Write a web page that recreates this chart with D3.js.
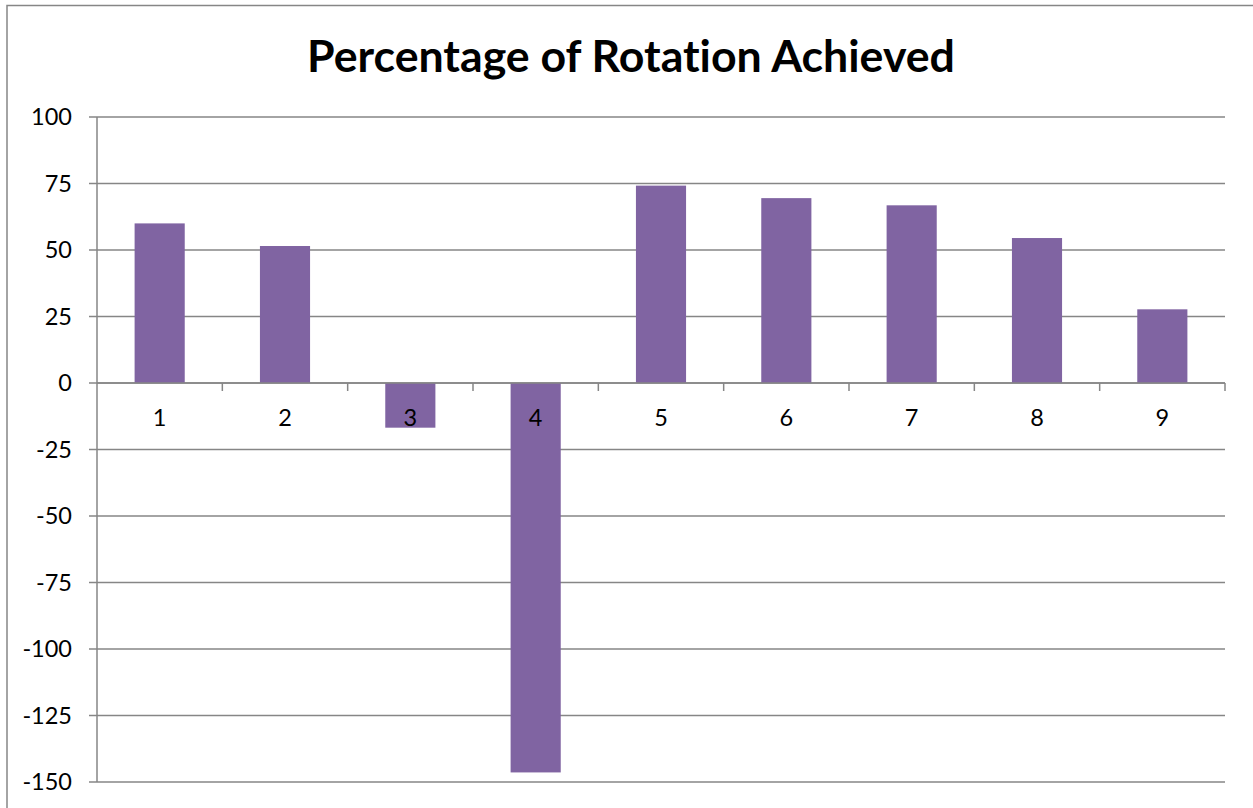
<!DOCTYPE html>
<html><head><meta charset="utf-8">
<script src="https://cdn.jsdelivr.net/npm/d3@7"></script>
<style>body{margin:0;background:#fff}svg{display:block}text{font-variant-ligatures:none;font-feature-settings:"liga" 0}</style>
</head><body>
<svg id="c" width="1253" height="808"></svg>
<script>
const categories = ["1","2","3","4","5","6","7","8","9"];
const values = [60.0, 51.5, -16.8, -146.4, 74.2, 69.5, 66.8, 54.5, 27.7];
const yTicks = [100, 75, 50, 25, 0, -25, -50, -75, -100, -125, -150];
const title = "Percentage of Rotation Achieved";

const svg = d3.select("#c");
const W = 1253, H = 808;
const m = {left: 97, right: 1225, top: 117, bottom: 782};
const font = "Lato, 'Open Sans', sans-serif";
const grey = "#868686";

svg.append("rect").attr("x", 7).attr("y", 5.5).attr("width", W + 10).attr("height", H + 10)
  .attr("fill", "#fff").attr("stroke", grey).attr("stroke-width", 1.5);

const x = d3.scaleBand().domain(categories).range([m.left, m.right]).paddingInner(0.6).paddingOuter(0.3);
const xb = d3.scaleBand().domain(categories).range([m.left, m.right]);
const y = d3.scaleLinear().domain([-150, 100]).range([m.bottom, m.top]);

// gridlines
svg.append("g").selectAll("line").data(yTicks).join("line")
  .attr("x1", m.left - 8).attr("x2", m.right)
  .attr("y1", d => y(d)).attr("y2", d => y(d))
  .attr("stroke", grey).attr("stroke-width", 1.5);

// y axis line
svg.append("line").attr("x1", m.left).attr("x2", m.left).attr("y1", m.top).attr("y2", m.bottom)
  .attr("stroke", grey).attr("stroke-width", 1.5);

// y labels
svg.append("g").selectAll("text").data(yTicks).join("text")
  .attr("x", 72).attr("y", d => y(d)).attr("dy", "0.36em")
  .attr("text-anchor", "end").attr("font-family", font).attr("font-size", 23.5).attr("fill", "#000")
  .text(d => d);

// bars
svg.append("g").selectAll("rect").data(values).join("rect")
  .attr("x", (d, i) => x(categories[i]))
  .attr("width", x.bandwidth())
  .attr("y", d => y(Math.max(0, d)))
  .attr("height", d => Math.abs(y(d) - y(0)))
  .attr("fill", "#8064A2");

// x axis line at 0 and ticks
svg.append("line").attr("x1", m.left).attr("x2", m.right).attr("y1", y(0)).attr("y2", y(0))
  .attr("stroke", grey).attr("stroke-width", 1.5);
const bounds = categories.map(c => xb(c) + xb.bandwidth());
svg.append("g").selectAll("line").data(bounds).join("line")
  .attr("x1", d => d).attr("x2", d => d).attr("y1", y(0)).attr("y2", y(0) + 8)
  .attr("stroke", grey).attr("stroke-width", 1.5);

// category labels
svg.append("g").selectAll("text").data(categories).join("text")
  .attr("x", d => xb(d) + xb.bandwidth() / 2).attr("y", y(0) + 35)
  .attr("dy", "0.36em").attr("text-anchor", "middle")
  .attr("font-family", font).attr("font-size", 23.5).attr("fill", "#000")
  .text(d => d);

// title
const t = svg.append("text").attr("x", 631).attr("y", 72).attr("text-anchor", "middle")
  .attr("font-family", font).attr("font-weight", "bold").attr("font-size", 40).attr("fill", "#000")
  .text(title);
const len = t.node().getComputedTextLength();
t.attr("font-size", 40 * 648 / len);
</script>
</body></html>
